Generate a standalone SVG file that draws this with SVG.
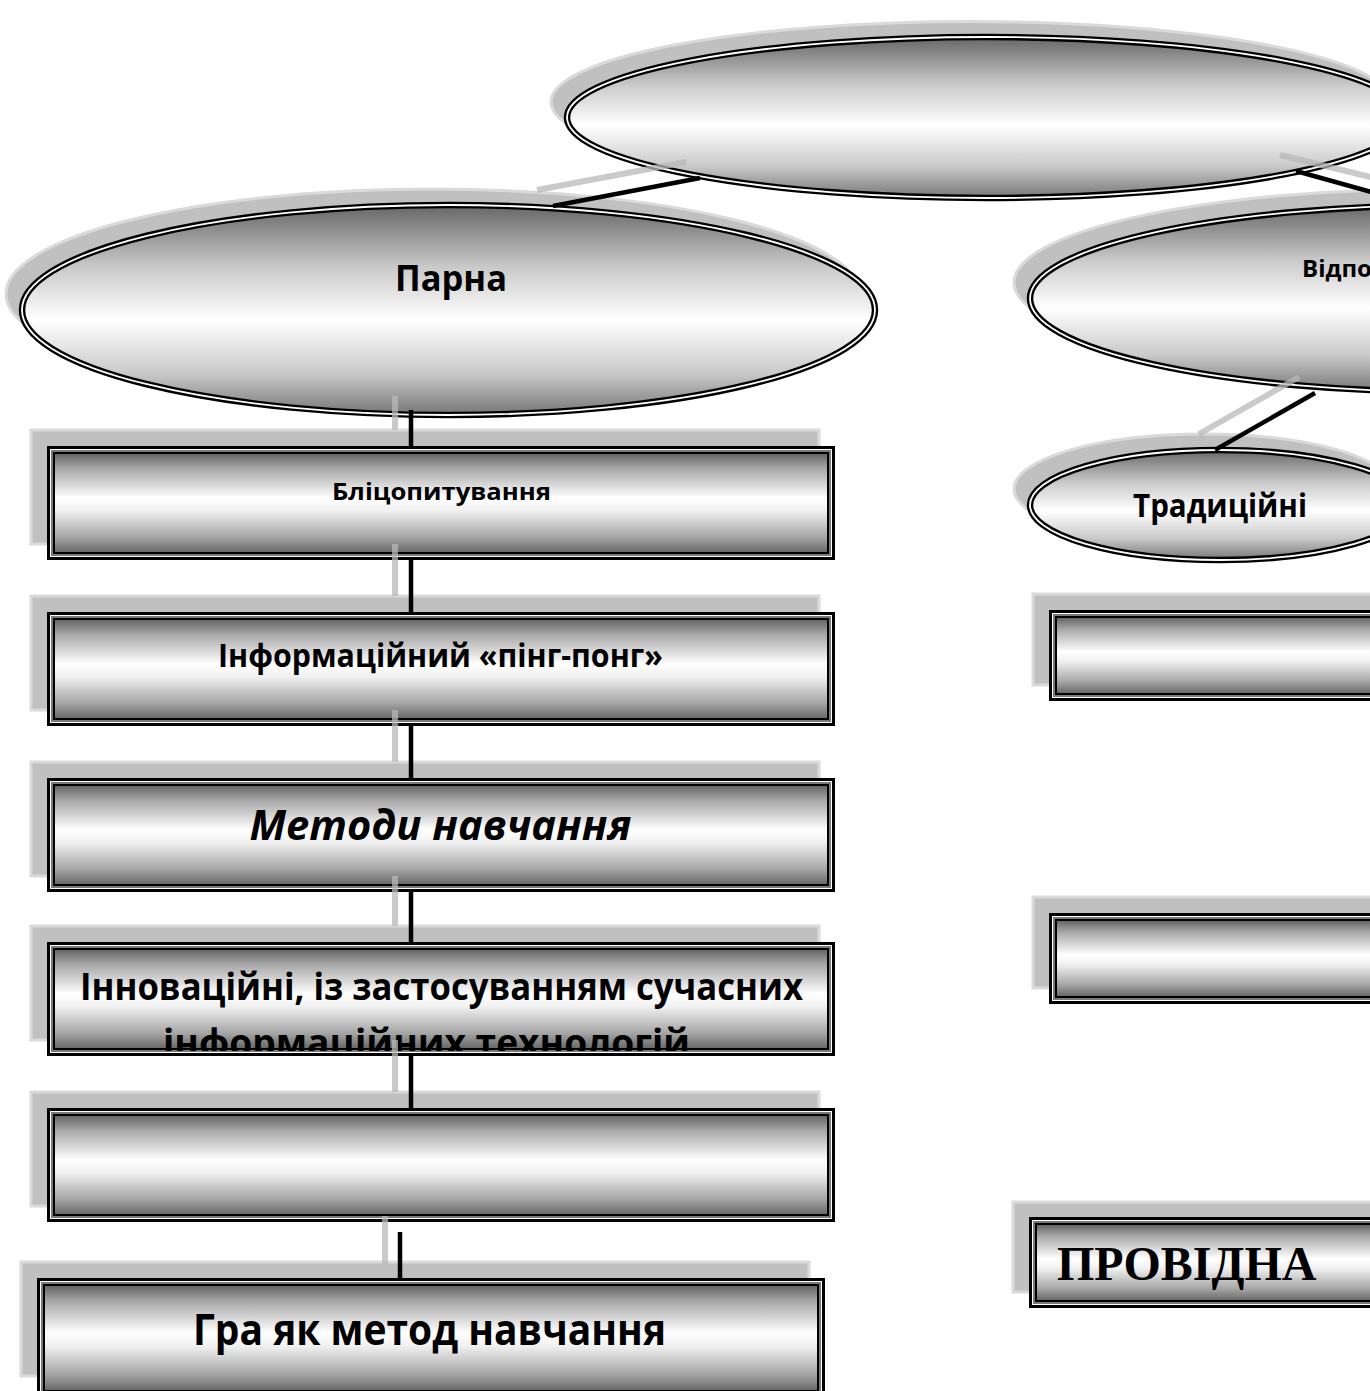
<svg xmlns="http://www.w3.org/2000/svg" width="1370" height="1391" viewBox="0 0 1370 1391">
<style>
.sh{fill:#c0c0c0;stroke:#dadada;stroke-width:3}
.eo{fill:url(#eg);stroke:#000;stroke-width:6.5}
.ei{fill:none;stroke:#fff;stroke-width:1.8}
.b0{fill:#000}.b1{fill:#fff}.b2{fill:#7a7a7a}.b3{fill:#000}.b4{fill:url(#rg)}
.t{font-family:"Open Sans","DejaVu Sans",sans-serif;font-weight:bold;fill:#000}
.cg{stroke:#b8b8b8;stroke-opacity:0.75;stroke-width:6;fill:none}
.cb{stroke:#000;stroke-width:4.5;fill:none}
</style>
<defs>
<linearGradient id="eg" x1="0" y1="0" x2="0" y2="1">
<stop offset="0" stop-color="#666"/>
<stop offset="0.3" stop-color="#cbcbcb"/>
<stop offset="0.55" stop-color="#ffffff"/>
<stop offset="0.8" stop-color="#cacaca"/>
<stop offset="1" stop-color="#767676"/>
</linearGradient>
<linearGradient id="rg" x1="0" y1="0" x2="0" y2="1">
<stop offset="0" stop-color="#666"/>
<stop offset="0.15" stop-color="#a8a8a8"/>
<stop offset="0.45" stop-color="#ffffff"/>
<stop offset="0.58" stop-color="#f0f0f0"/>
<stop offset="0.85" stop-color="#a5a5a5"/>
<stop offset="1" stop-color="#6a6a6a"/>
</linearGradient>
<clipPath id="c4"><rect x="55" y="950" width="772" height="101"/></clipPath>
</defs>
<rect width="1370" height="1391" fill="#fff"/>

<g id="top">
<ellipse class="sh" cx="971" cy="102" rx="420" ry="80.5"/>
<ellipse class="eo" cx="987" cy="117.5" rx="420" ry="80.5"/>
<ellipse class="ei" cx="987" cy="117.5" rx="420" ry="80.5"/>
</g>

<g id="parna">
<ellipse class="sh" cx="432.5" cy="294" rx="426.5" ry="105"/>
<ellipse class="eo" cx="448.5" cy="310" rx="426.5" ry="105"/>
<ellipse class="ei" cx="448.5" cy="310" rx="426.5" ry="105"/>
<text class="t" x="451" y="291" font-size="36" text-anchor="middle" textLength="112" lengthAdjust="spacingAndGlyphs">Парна</text>
</g>

<g id="vidpo">
<ellipse class="sh" cx="1440" cy="282.5" rx="426" ry="93.5"/>
<ellipse class="eo" cx="1456" cy="298.5" rx="426" ry="93.5"/>
<ellipse class="ei" cx="1456" cy="298.5" rx="426" ry="93.5"/>
<text class="t" x="1302" y="277" font-size="24">Відпо</text>
</g>

<g id="trad">
<ellipse class="sh" cx="1204" cy="489" rx="190" ry="55"/>
<ellipse class="eo" cx="1220" cy="505" rx="190" ry="55"/>
<ellipse class="ei" cx="1220" cy="505" rx="190" ry="55"/>
<text class="t" x="1220" y="517" font-size="33" text-anchor="middle" textLength="174" lengthAdjust="spacingAndGlyphs">Традиційні</text>
</g>

<g id="r1">
<rect class="sh" x="31" y="430" width="788" height="114"/>
<rect class="b0" x="47" y="446" width="788" height="114"/>
<rect class="b1" x="50" y="449" width="782" height="108"/>
<rect class="b2" x="51" y="450" width="780" height="106"/>
<rect class="b3" x="53" y="452" width="776" height="102"/>
<rect class="b4" x="55" y="454" width="772" height="98"/>
<text class="t" x="441.5" y="500" font-size="24" text-anchor="middle" textLength="219" lengthAdjust="spacingAndGlyphs">Бліцопитування</text>
</g>

<g id="r2">
<rect class="sh" x="31" y="596" width="788" height="114"/>
<rect class="b0" x="47" y="612" width="788" height="114"/>
<rect class="b1" x="50" y="615" width="782" height="108"/>
<rect class="b2" x="51" y="616" width="780" height="106"/>
<rect class="b3" x="53" y="618" width="776" height="102"/>
<rect class="b4" x="55" y="620" width="772" height="98"/>
<text class="t" x="440.5" y="667" font-size="32" text-anchor="middle" textLength="445" lengthAdjust="spacingAndGlyphs">Інформаційний «пінг-понг»</text>
</g>

<g id="r3">
<rect class="sh" x="31" y="762" width="788" height="114"/>
<rect class="b0" x="47" y="778" width="788" height="114"/>
<rect class="b1" x="50" y="781" width="782" height="108"/>
<rect class="b2" x="51" y="782" width="780" height="106"/>
<rect class="b3" x="53" y="784" width="776" height="102"/>
<rect class="b4" x="55" y="786" width="772" height="98"/>
<text class="t" x="440.5" y="840" font-size="42" font-style="italic" text-anchor="middle" textLength="382" lengthAdjust="spacingAndGlyphs">Методи навчання</text>
</g>

<g id="r4">
<rect class="sh" x="31" y="926" width="788" height="114"/>
<rect class="b0" x="47" y="942" width="788" height="114"/>
<rect class="b1" x="50" y="945" width="782" height="108"/>
<rect class="b2" x="51" y="946" width="780" height="106"/>
<rect class="b3" x="53" y="948" width="776" height="102"/>
<rect class="b4" x="55" y="950" width="772" height="98"/>
<text class="t" x="441.5" y="1000" font-size="37" text-anchor="middle" textLength="723" lengthAdjust="spacingAndGlyphs">Інноваційні, із застосуванням сучасних</text>
<g clip-path="url(#c4)">
<text class="t" x="163" y="1056" font-size="37" textLength="527" lengthAdjust="spacingAndGlyphs">інформаційних технологій</text>
</g>
</g>

<g id="r5">
<rect class="sh" x="31" y="1092" width="788" height="114"/>
<rect class="b0" x="47" y="1108" width="788" height="114"/>
<rect class="b1" x="50" y="1111" width="782" height="108"/>
<rect class="b2" x="51" y="1112" width="780" height="106"/>
<rect class="b3" x="53" y="1114" width="776" height="102"/>
<rect class="b4" x="55" y="1116" width="772" height="98"/>
</g>

<g id="r6">
<rect class="sh" x="21" y="1262" width="788" height="114"/>
<rect class="b0" x="37" y="1278" width="788" height="120"/>
<rect class="b1" x="40" y="1281" width="782" height="114"/>
<rect class="b2" x="41" y="1282" width="780" height="112"/>
<rect class="b3" x="43" y="1284" width="776" height="108"/>
<rect class="b4" x="45" y="1286" width="772" height="104"/>
<text class="t" x="429.5" y="1345" font-size="43" text-anchor="middle" textLength="473" lengthAdjust="spacingAndGlyphs">Гра як метод навчання</text>
</g>

<g id="rr1">
<rect class="sh" x="1033" y="594" width="400" height="91"/>
<rect class="b0" x="1049" y="610" width="400" height="91"/>
<rect class="b1" x="1052" y="613" width="394" height="85"/>
<rect class="b2" x="1053" y="614" width="392" height="83"/>
<rect class="b3" x="1055" y="616" width="388" height="79"/>
<rect class="b4" x="1057" y="618" width="384" height="75"/>
</g>

<g id="rr2">
<rect class="sh" x="1033" y="897" width="400" height="91"/>
<rect class="b0" x="1049" y="913" width="400" height="91"/>
<rect class="b1" x="1052" y="916" width="394" height="85"/>
<rect class="b2" x="1053" y="917" width="392" height="83"/>
<rect class="b3" x="1055" y="919" width="388" height="79"/>
<rect class="b4" x="1057" y="921" width="384" height="75"/>
</g>

<g id="providna">
<rect class="sh" x="1013" y="1202" width="400" height="90"/>
<rect class="b0" x="1029" y="1217" width="400" height="91"/>
<rect class="b1" x="1032" y="1220" width="394" height="85"/>
<rect class="b2" x="1033" y="1221" width="392" height="83"/>
<rect class="b3" x="1035" y="1223" width="388" height="79"/>
<rect class="b4" x="1037" y="1225" width="384" height="75"/>
<text x="1057" y="1280" font-family="'Liberation Serif','Times New Roman',serif" font-weight="bold" font-size="48" fill="#000">ПРОВІДНА</text>
</g>

<g id="connectors">
<line class="cg" x1="537" y1="190" x2="686" y2="162"/>
<line class="cb" x1="553" y1="206" x2="700" y2="178"/>
<line class="cg" x1="1280" y1="155" x2="1375" y2="178"/>
<line class="cb" x1="1296" y1="171" x2="1375" y2="193"/>
<line class="cg" x1="1299" y1="377" x2="1199" y2="434"/>
<line class="cb" x1="1315" y1="393" x2="1215" y2="450"/>
<line class="cg" x1="395" y1="396" x2="395" y2="430"/>
<line class="cb" x1="411" y1="410" x2="411" y2="446"/>
<line class="cg" x1="395" y1="544" x2="395" y2="596"/>
<line class="cb" x1="411" y1="560" x2="411" y2="612"/>
<line class="cg" x1="395" y1="710" x2="395" y2="762"/>
<line class="cb" x1="411" y1="726" x2="411" y2="778"/>
<line class="cg" x1="395" y1="876" x2="395" y2="926"/>
<line class="cb" x1="411" y1="892" x2="411" y2="942"/>
<line class="cg" x1="395" y1="1040" x2="395" y2="1092"/>
<line class="cb" x1="411" y1="1056" x2="411" y2="1108"/>
<line class="cg" x1="385" y1="1216" x2="385" y2="1264"/>
<line class="cb" x1="400" y1="1232" x2="400" y2="1280"/>
</g>
</svg>
